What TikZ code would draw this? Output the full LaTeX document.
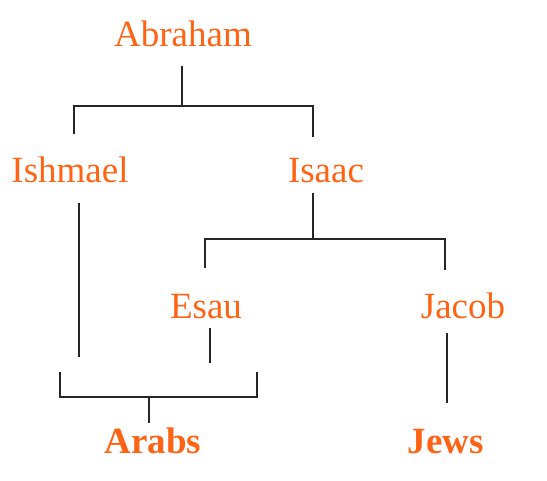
\documentclass[tikz,border=0pt]{standalone}
\usepackage{fontspec}
\setmainfont{Liberation Serif}
\definecolor{kin}{HTML}{FF6415}
\tikzset{person/.style={text=kin,anchor=base,inner sep=0pt,
    font=\fontsize{37}{44}\selectfont},
  nation/.style={person,font=\fontsize{37}{44}\selectfont\bfseries},
  line/.style={line width=1.2pt,black!85},
  }

\begin{document}
\begin{tikzpicture}[x=1pt,y=-1pt]
\useasboundingbox (0,0) rectangle (547,480);
% names
\node[person] (abraham) at (183,46) {Abraham};
\node[person] (ishmael) at (70,182) {Ishmael};
\node[person] (isaac) at (326,182) {Isaac};
\node[person] (esau) at (206,318) {Esau};
\node[person] (jacob) at (463,318) {Jacob};
\node[nation] (arabs) at (153,453) {Arabs};
\node[nation] (jews) at (446,453) {Jews};
% bracket points
\coordinate (ab1) at (182,66);  \coordinate (ab2) at (182,106);
\coordinate (abl) at (74,106);  \coordinate (abr) at (313,106);
\coordinate (ish1) at (74,134); \coordinate (isa1) at (313,137);
\coordinate (ish2) at (79,203); \coordinate (ish3) at (79,357);
\coordinate (isa2) at (313,193); \coordinate (isa3) at (313,239);
\coordinate (isl) at (205,239); \coordinate (isr) at (445,239);
\coordinate (esa1) at (205,268); \coordinate (jac1) at (445,270);
\coordinate (esa2) at (210,328); \coordinate (esa3) at (210,363);
\coordinate (jac2) at (447,333); \coordinate (jac3) at (447,403);
\coordinate (arl) at (60,372); \coordinate (arr) at (257,372);
\coordinate (ar1) at (149,397); \coordinate (ar2) at (149,423);
% lines
\draw[line] (ab1) -- (ab2);
\draw[line] (ish1) -- (abl) -- (abr) -- (isa1);
\draw[line] (ish2) -- (ish3);
\draw[line] (isa2) -- (isa3);
\draw[line] (esa1) -- (isl) -- (isr) -- (jac1);
\draw[line] (esa2) -- (esa3);
\draw[line] (jac2) -- (jac3);
\draw[line] (arl) |- (ar1) -| (arr);
\draw[line] (ar1) -- (ar2);
\end{tikzpicture}
\end{document}
